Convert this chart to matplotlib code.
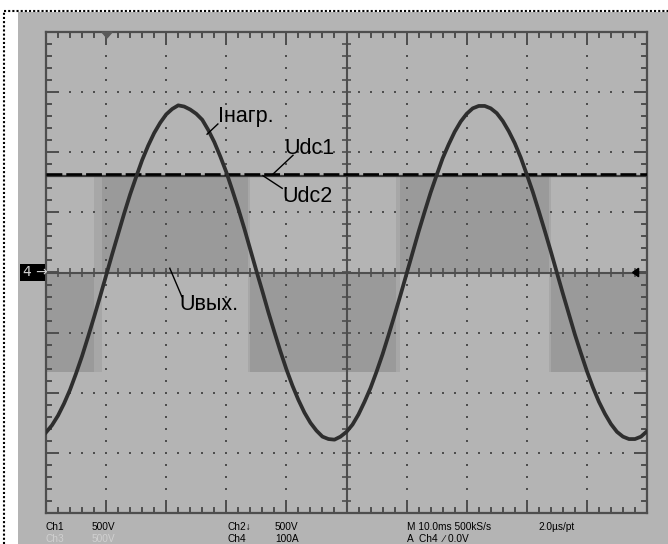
import numpy as np
import matplotlib
matplotlib.use("Agg")
import matplotlib.pyplot as plt
from matplotlib.patches import Rectangle, Polygon

# ---------- DATA (divisions) ----------
# load current Iнагр., sampled every 0.1 div
i_x = [round(0.1 * k, 1) for k in range(101)]
i_y = [-2.66, -2.54, -2.38, -2.18, -1.95, -1.68, -1.39, -1.07, -0.74, -0.40,
       -0.05, 0.30, 0.64, 0.98, 1.30, 1.59, 1.87, 2.11, 2.32, 2.49,
       2.63, 2.72, 2.78, 2.76, 2.71, 2.64, 2.54, 2.37, 2.17, 1.93,
       1.67, 1.37, 1.06, 0.73, 0.38, 0.03, -0.31, -0.66, -0.99, -1.31,
       -1.61, -1.88, -2.12, -2.33, -2.50, -2.63, -2.73, -2.77, -2.78, -2.73,
       -2.65, -2.53, -2.36, -2.15, -1.92, -1.65, -1.36, -1.04, -0.71, -0.37,
       -0.02, 0.33, 0.68, 1.01, 1.33, 1.62, 1.90, 2.13, 2.34, 2.51,
       2.64, 2.73, 2.77, 2.77, 2.73, 2.65, 2.52, 2.35, 2.15, 1.91,
       1.63, 1.34, 1.02, 0.69, 0.35, 0.00, -0.35, -0.69, -1.03, -1.34,
       -1.64, -1.91, -2.15, -2.35, -2.52, -2.65, -2.73, -2.77, -2.77, -2.73, -2.64]

# DC link voltages
udc_x = [0.0, 10.0]
udc1_y = [1.64, 1.64]
udc2_y = [1.61, 1.61]

# inverter output voltage Uвых. (step function)
uout_t = [0.0, 0.815, 0.915, 3.375, 5.85, 8.385, 10.0]
uout_v = [-1.65, 0.0, 1.62, -1.65, 1.62, -1.65, -1.65]
uout_edges = [(0.80, 0.93), (3.36, 3.39), (5.83, 5.89), (8.37, 8.40)]

bottom_row1 = [(46, "Ch1"), (92, "500V"), (227, "Ch2\u2193"), (275, "500V"),
               (407, "M 10.0ms 500kS/s"), (538, "2.0\u00b5s/pt")]
bottom_row2 = [(46, "Ch3"), (92, "500V"), (227, "Ch4"), (275, "100A"),
               (407, "A  Ch4  \u2215 0.0V")]

# ---------- STYLE ----------
W, H = 668, 544
BG = "#b4b4b4"
FILL = "#9a9a9a"
GRID = "#4e4e4e"

fig = plt.figure(figsize=(W / 100, H / 100), dpi=100)
fig.patch.set_facecolor("white")

# gray scope screen + dotted border
fig.add_artist(Rectangle((18 / W, 0), 1, 1 - 12 / H, transform=fig.transFigure,
                         facecolor=BG, edgecolor="none", zorder=0))
fig.add_artist(plt.Line2D([3.5 / W, 1], [1 - 10.5 / H] * 2, transform=fig.transFigure,
                          color="black", lw=1.5, ls=(0, (1, 1))))
fig.add_artist(plt.Line2D([3.5 / W] * 2, [0, 1 - 10.5 / H], transform=fig.transFigure,
                          color="black", lw=1.5, ls=(0, (1, 1))))

ax = fig.add_axes([46 / W, (H - 513) / H, 601 / W, 481 / H])
ax.set_facecolor(BG)
ax.set_xlim(0, 10)
ax.set_ylim(-4, 4)
ax.set_xticks([])
ax.set_yticks([])
for s in ax.spines.values():
    s.set_color(GRID)
    s.set_linewidth(1.6)

# output voltage fill
ax.fill_between(uout_t, 0, uout_v, step="post", color=FILL, lw=0, zorder=1)
for a, b in uout_edges:
    ax.axvspan(a, b, ymin=(4 - 1.65) / 8, ymax=(4 + 1.62) / 8, color="#a7a7a7", lw=0, zorder=1)

# dotted graticule
minor = np.arange(0, 10.01, 0.2)
minor_y = np.arange(-4, 4.01, 0.2)
for gx in range(1, 10):
    if gx == 5:
        continue
    ax.scatter([gx] * len(minor_y), minor_y, s=1.5, color=GRID, marker="s", lw=0, zorder=2)
for gy in range(-3, 4):
    if gy == 0:
        continue
    ax.scatter(minor, [gy] * len(minor), s=1.5, color=GRID, marker="s", lw=0, zorder=2)

# centre cross with ticks
ax.axhline(0, color=GRID, lw=1.5, zorder=2)
ax.axvline(5, color=GRID, lw=1.5, zorder=2)
ax.vlines(minor, -0.08, 0.08, color=GRID, lw=1.2, zorder=2)
ax.hlines(minor_y, 4.92, 5.08, color=GRID, lw=1.2, zorder=2)

# edge ticks
for t in minor:
    ln = 0.2 if abs(t - round(t)) < 1e-6 else 0.085
    ax.plot([t, t], [4, 4 - ln], color=GRID, lw=1.4, zorder=2)
    ax.plot([t, t], [-4, -4 + ln], color=GRID, lw=1.4, zorder=2)
for t in minor_y:
    ln = 0.2 if abs(t - round(t)) < 1e-6 else 0.085
    ax.plot([0, ln], [t, t], color=GRID, lw=1.4, zorder=2)
    ax.plot([10, 10 - ln], [t, t], color=GRID, lw=1.4, zorder=2)

# trigger markers
ax.add_patch(Polygon([[0.93, 4.0], [1.1, 4.0], [1.015, 3.9]], closed=True,
                     color="#5a5a5a", zorder=3, clip_on=False))
ax.add_patch(Polygon([[9.76, 0.0], [9.86, 0.07], [9.86, -0.07]], closed=True,
                     color="black", zorder=3))

# traces
ax.plot(udc_x, udc2_y, color="#3a3a3a", lw=1.6, zorder=4)
ax.plot(udc_x, udc1_y, color="black", lw=1.9, ls=(0, (6, 1.5)), zorder=4)
ax.plot(i_x, i_y, color="#2e2e2e", lw=2.7, zorder=5, solid_joinstyle="round")

# labels with leader lines
lab = dict(fontsize=15.5, family="Liberation Sans", color="black", zorder=6)
ax.text(2.86, 2.60, "I\u043d\u0430\u0433\u0440.", va="center", ha="left", **lab)
ax.plot([2.86, 2.68], [2.47, 2.30], color="black", lw=1, zorder=6)
ax.text(3.96, 2.06, "Udc1", va="center", ha="left", **lab)
ax.plot([4.11, 3.78], [1.95, 1.64], color="black", lw=1, zorder=6)
ax.text(3.93, 1.26, "Udc2", va="center", ha="left", **lab)
ax.plot([3.93, 3.61], [1.40, 1.61], color="black", lw=1, zorder=6)
ax.text(2.22, -0.53, "U\u0432\u044b\u0445.", va="center", ha="left", **lab)
ax.plot([2.06, 2.26], [0.07, -0.40], color="black", lw=1, zorder=6)

# channel 4 ground marker
fig.add_artist(Rectangle((20 / W, 1 - 281 / H), 25 / W, 17 / H, transform=fig.transFigure,
                         facecolor="black", edgecolor="none", zorder=5))
fig.text(23 / W, 1 - 272.5 / H, "4 \u2192", color="#cfcfcf", fontsize=10,
         family="DejaVu Sans", va="center", ha="left", zorder=6)

# status line
stat = dict(fontsize=7.3, family="Liberation Sans", va="baseline", ha="left")
for px, s in bottom_row1:
    fig.text(px / W, 1 - 530.5 / H, s, color="black", **stat)
for i, (px, s) in enumerate(bottom_row2):
    c = "#d0d0d0" if i < 2 else "black"
    fig.text(px / W, 1 - 541.5 / H, s, color=c, **stat)

fig.savefig("out.png", dpi=100, facecolor=fig.get_facecolor())
